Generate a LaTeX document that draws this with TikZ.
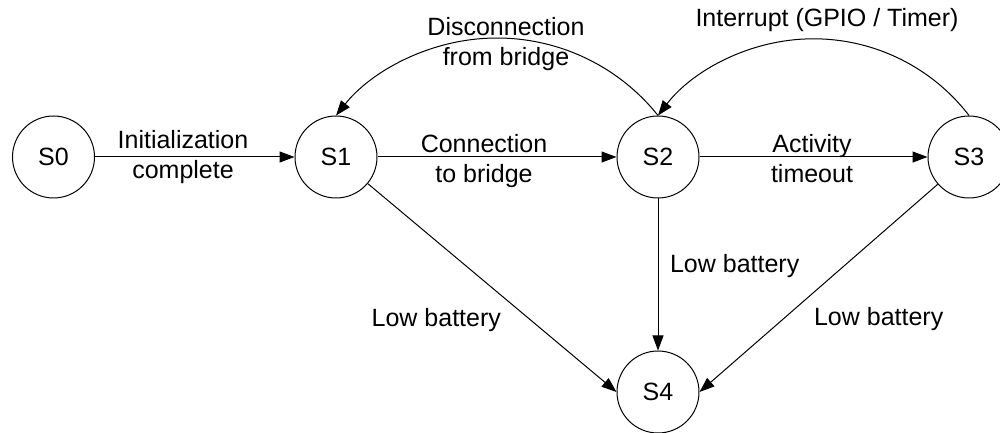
\documentclass[tikz,border=0pt]{standalone}
\usepackage{fontspec}
\setmainfont{Liberation Sans}
\usetikzlibrary{arrows.meta}
\begin{document}
\begin{tikzpicture}[x=1pt,y=1pt,
  state/.style={circle, draw, line width=1pt, minimum size=82pt, inner sep=0pt, font=\fontsize{25}{30}\selectfont},
  lbl/.style={inner sep=0pt, align=center, font=\fontsize{25}{30}\selectfont},
  trans/.style={line width=1pt, -{Triangle[length=15pt,width=11pt]}}]
\clip (0,0) rectangle (1000,433);
\node[state] (s0) at (53.5,276) {S0};
\node[state] (s1) at (336,276) {S1};
\node[state] (s2) at (658,276) {S2};
\node[state] (s3) at (969,276) {S3};
\node[state] (s4) at (658,41) {S4};

\draw[trans] (s0) -- (s1);
\draw[trans] (s1) -- (s2);
\draw[trans] (s2) -- (s3);
\draw[trans] (s2) -- (s4);
\draw[trans] (s1) -- (s4.west);
\draw[trans] (s3) -- (s4.east);
\draw[trans] (s2.north) arc[start angle=38.6, end angle=141.4, radius=206];
\draw[trans] (s3.north) arc[start angle=37.5, end angle=142.5, radius=196];

\node[lbl] (l01) at (183,275.7) {\strut Initialization\\complete\strut};
\node[lbl] (l12) at (484,271.3) {\strut Connection\\to bridge\strut};
\node[lbl] (l23) at (812,271.3) {\strut Activity\\timeout\strut};
\node[lbl] (l21) at (506,388) {\strut Disconnection\\from bridge\strut};
\node[lbl] (l32) at (827,412.3) {\strut Interrupt (GPIO / Timer)};
\node[lbl] (l14) at (436.3,112.3) {\strut Low battery};
\node[lbl] (l24) at (734.7,166.3) {\strut Low battery};
\node[lbl] (l34) at (878.7,113.3) {\strut Low battery};
\end{tikzpicture}
\end{document}
